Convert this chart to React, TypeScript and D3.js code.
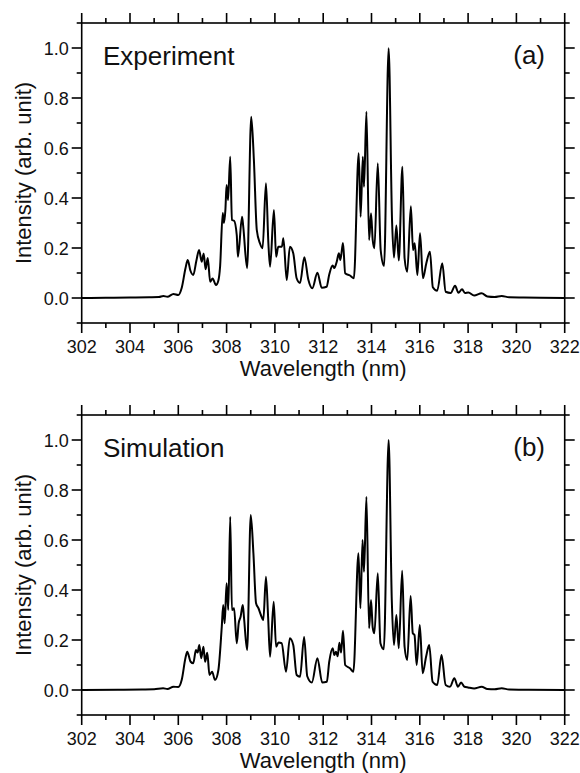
import React from "react";
import * as d3 from "d3";

// ---- Data ----
const expWavelength = [
  302.0, 303.0, 304.0, 304.8, 305.2, 305.38, 305.55, 305.8, 306.0, 306.14, 306.3, 306.39, 306.5, 306.62, 306.75,
  306.86, 306.97, 307.05, 307.13, 307.22, 307.32, 307.42, 307.56, 307.66, 307.73, 307.84, 307.89, 307.95, 308.0,
  308.06, 308.15, 308.22, 308.31, 308.42, 308.47, 308.64, 308.69, 308.85, 309.02, 309.13, 309.25, 309.38, 309.49,
  309.63, 309.73, 309.8, 309.96, 310.05, 310.14, 310.29, 310.35, 310.49, 310.62, 310.76, 310.9, 311.04, 311.22,
  311.38, 311.55, 311.76, 311.94, 312.14, 312.25, 312.39, 312.46, 312.56, 312.65, 312.71, 312.82, 312.91, 313.11,
  313.27, 313.47, 313.55, 313.64, 313.69, 313.79, 313.9, 313.98, 314.05, 314.12, 314.26, 314.38, 314.52, 314.71,
  314.85, 314.93, 315.03, 315.13, 315.28, 315.37, 315.48, 315.63, 315.72, 315.79, 315.9, 316.01, 316.13, 316.27,
  316.42, 316.54, 316.72, 316.93, 317.07, 317.28, 317.46, 317.6, 317.75, 317.87, 318.01, 318.25, 318.56, 318.8,
  319.1, 319.39, 319.7, 320.3, 321.0, 322.0,
];
const expIntensity = [
  0.0, 0.001, 0.002, 0.003, 0.004, 0.008, 0.005, 0.016, 0.012, 0.04, 0.12, 0.152, 0.11, 0.092, 0.15,
  0.192, 0.145, 0.178, 0.115, 0.16, 0.065, 0.078, 0.052, 0.07, 0.125, 0.34, 0.3, 0.352, 0.452,
  0.392, 0.565, 0.312, 0.309, 0.252, 0.165, 0.325, 0.285, 0.119, 0.725, 0.552, 0.272, 0.219, 0.199,
  0.459, 0.219, 0.125, 0.352, 0.165, 0.205, 0.205, 0.239, 0.072, 0.205, 0.179, 0.079, 0.06, 0.163,
  0.075, 0.039, 0.101, 0.041, 0.045, 0.094, 0.13, 0.12, 0.145, 0.179, 0.152, 0.22, 0.099, 0.09,
  0.079, 0.579, 0.325, 0.565, 0.445, 0.745, 0.232, 0.339, 0.232, 0.199, 0.539, 0.192, 0.128, 0.999,
  0.312, 0.162, 0.29, 0.15, 0.525, 0.159, 0.105, 0.367, 0.192, 0.219, 0.092, 0.259, 0.079, 0.139,
  0.185, 0.043, 0.029, 0.139, 0.025, 0.02, 0.049, 0.021, 0.035, 0.02, 0.022, 0.01, 0.019, 0.006,
  0.004, 0.008, 0.003, 0.002, 0.001, 0.0,
];

const simWavelength = [
  302.0, 303.5, 304.5, 305.0, 305.37, 305.55, 305.8, 306.0, 306.14, 306.3, 306.37, 306.51, 306.62, 306.73, 306.8,
  306.87, 306.95, 307.04, 307.11, 307.2, 307.29, 307.4, 307.52, 307.66, 307.8, 307.86, 307.92, 308.0, 308.07,
  308.15, 308.22, 308.31, 308.42, 308.5, 308.58, 308.67, 308.72, 308.85, 309.0, 309.11, 309.22, 309.32, 309.42,
  309.52, 309.63, 309.72, 309.8, 309.95, 310.05, 310.15, 310.28, 310.46, 310.62, 310.76, 310.9, 311.04, 311.21,
  311.34, 311.53, 311.76, 311.96, 312.15, 312.25, 312.39, 312.46, 312.53, 312.6, 312.67, 312.74, 312.82, 312.91,
  313.11, 313.25, 313.46, 313.54, 313.63, 313.69, 313.79, 313.9, 313.98, 314.05, 314.12, 314.26, 314.37, 314.51,
  314.71, 314.84, 314.93, 315.03, 315.13, 315.27, 315.37, 315.48, 315.62, 315.71, 315.78, 315.87, 316.0, 316.12,
  316.26, 316.39, 316.53, 316.72, 316.9, 317.07, 317.25, 317.43, 317.58, 317.71, 317.85, 318.0, 318.25, 318.56,
  318.8, 319.1, 319.39, 319.7, 320.5, 322.0,
];
const simIntensity = [
  0.0, 0.001, 0.002, 0.003, 0.007, 0.004, 0.013, 0.012, 0.04, 0.13, 0.153, 0.113, 0.107, 0.16, 0.15,
  0.18, 0.127, 0.173, 0.113, 0.149, 0.06, 0.073, 0.04, 0.08, 0.253, 0.34, 0.267, 0.427, 0.32,
  0.693, 0.32, 0.327, 0.187, 0.267, 0.293, 0.34, 0.29, 0.16, 0.7, 0.547, 0.347, 0.327, 0.3,
  0.28, 0.453, 0.29, 0.133, 0.353, 0.173, 0.19, 0.187, 0.073, 0.207, 0.18, 0.06, 0.053, 0.212,
  0.055, 0.03, 0.127, 0.03, 0.033, 0.113, 0.167, 0.14, 0.153, 0.135, 0.189, 0.15, 0.237, 0.1,
  0.087, 0.073, 0.547, 0.327, 0.6, 0.473, 0.773, 0.247, 0.36, 0.25, 0.227, 0.467, 0.187, 0.163,
  1.0, 0.36, 0.18, 0.3, 0.167, 0.477, 0.173, 0.12, 0.376, 0.227, 0.22, 0.1, 0.26, 0.067,
  0.133, 0.18, 0.033, 0.02, 0.14, 0.02, 0.013, 0.047, 0.013, 0.03, 0.013, 0.01, 0.006, 0.013,
  0.004, 0.003, 0.007, 0.002, 0.001, 0.0,
];

const xMajorTicks = [302, 304, 306, 308, 310, 312, 314, 316, 318, 320, 322];
const xMinorTicks = [303, 305, 307, 309, 311, 313, 315, 317, 319, 321];
const yMajorTicks = [0.0, 0.2, 0.4, 0.6, 0.8, 1.0];
const yMinorTicks = [-0.1, 0.1, 0.3, 0.5, 0.7, 0.9, 1.1];

const panelLabels = ["Experiment", "Simulation"];
const panelTags = ["(a)", "(b)"];
const xTitle = "Wavelength (nm)";
const yTitle = "Intensity (arb. unit)";

const FONT = "'Liberation Sans', Arial, Helvetica, sans-serif";

type PanelProps = {
  top: number;
  xs: number[];
  ys: number[];
  label: string;
  tag: string;
};

function Panel({ top, xs, ys, label, tag }: PanelProps) {
  const left = 81.7;
  const right = 564.7;
  const height = 300;
  const bottom = top + height;
  const x = d3.scaleLinear().domain([302, 322]).range([left, right]);
  const y = d3.scaleLinear().domain([-0.1, 1.1]).range([bottom, top]);
  const pts: [number, number][] = xs.map((v, i) => [v, ys[i]]);
  const line = d3
    .line<[number, number]>()
    .x((d) => x(d[0]))
    .y((d) => y(d[1]))
    .curve(d3.curveMonotoneX);
  const fmt = d3.format(".1f");
  const major = 10;
  const minor = 5;
  const sw = 1.6;
  return (
    <g>
      {/* data */}
      <path d={line(pts) || ""} fill="none" stroke="#000" strokeWidth={2} strokeLinejoin="round" />
      {/* frame */}
      <rect x={left} y={top} width={right - left} height={height} fill="none" stroke="#000" strokeWidth={sw} />
      {/* x ticks bottom & top */}
      {xMajorTicks.map((t) => (
        <g key={"xM" + t}>
          <line x1={x(t)} x2={x(t)} y1={bottom} y2={bottom + major} stroke="#000" strokeWidth={sw} />
          <line x1={x(t)} x2={x(t)} y1={top} y2={top - major} stroke="#000" strokeWidth={sw} />
          <text x={x(t)} y={bottom + 30} textAnchor="middle" fontSize={18} fontFamily={FONT} fill="#111">
            {t}
          </text>
        </g>
      ))}
      {xMinorTicks.map((t) => (
        <g key={"xm" + t}>
          <line x1={x(t)} x2={x(t)} y1={bottom} y2={bottom + minor} stroke="#000" strokeWidth={sw} />
          <line x1={x(t)} x2={x(t)} y1={top} y2={top - minor} stroke="#000" strokeWidth={sw} />
        </g>
      ))}
      {/* y ticks left & right */}
      {yMajorTicks.map((t) => (
        <g key={"yM" + t}>
          <line x1={left} x2={left - major} y1={y(t)} y2={y(t)} stroke="#000" strokeWidth={sw} />
          <line x1={right} x2={right + major} y1={y(t)} y2={y(t)} stroke="#000" strokeWidth={sw} />
          <text x={left - 13} y={y(t) + 6.5} textAnchor="end" fontSize={18} fontFamily={FONT} fill="#111">
            {fmt(t)}
          </text>
        </g>
      ))}
      {yMinorTicks.map((t) => (
        <g key={"ym" + t}>
          <line x1={left} x2={left - minor} y1={y(t)} y2={y(t)} stroke="#000" strokeWidth={sw} />
          <line x1={right} x2={right + minor} y1={y(t)} y2={y(t)} stroke="#000" strokeWidth={sw} />
        </g>
      ))}
      {/* titles */}
      <text x={(left + right) / 2} y={bottom + 53} textAnchor="middle" fontSize={22} fontFamily={FONT} fill="#111">
        {xTitle}
      </text>
      <text
        transform={`translate(31, ${top + height / 2}) rotate(-90)`}
        textAnchor="middle"
        fontSize={22}
        fontFamily={FONT}
        fill="#111"
      >
        {yTitle}
      </text>
      <text x={103} y={top + 41.5} fontSize={26} fontFamily={FONT} fill="#111">
        {label}
      </text>
      <text x={545} y={top + 41} textAnchor="end" fontSize={26} fontFamily={FONT} fill="#111">
        {tag}
      </text>
    </g>
  );
}

export default function App() {
  return (
    <svg
      width={580}
      height={773}
      viewBox="0 0 580 773"
      style={{ position: "absolute", left: 0, top: 0, background: "#fff" }}
    >
      <rect x={0} y={0} width={580} height={773} fill="#fff" />
      <Panel top={23} xs={expWavelength} ys={expIntensity} label={panelLabels[0]} tag={panelTags[0]} />
      <Panel top={415} xs={simWavelength} ys={simIntensity} label={panelLabels[1]} tag={panelTags[1]} />
    </svg>
  );
}
